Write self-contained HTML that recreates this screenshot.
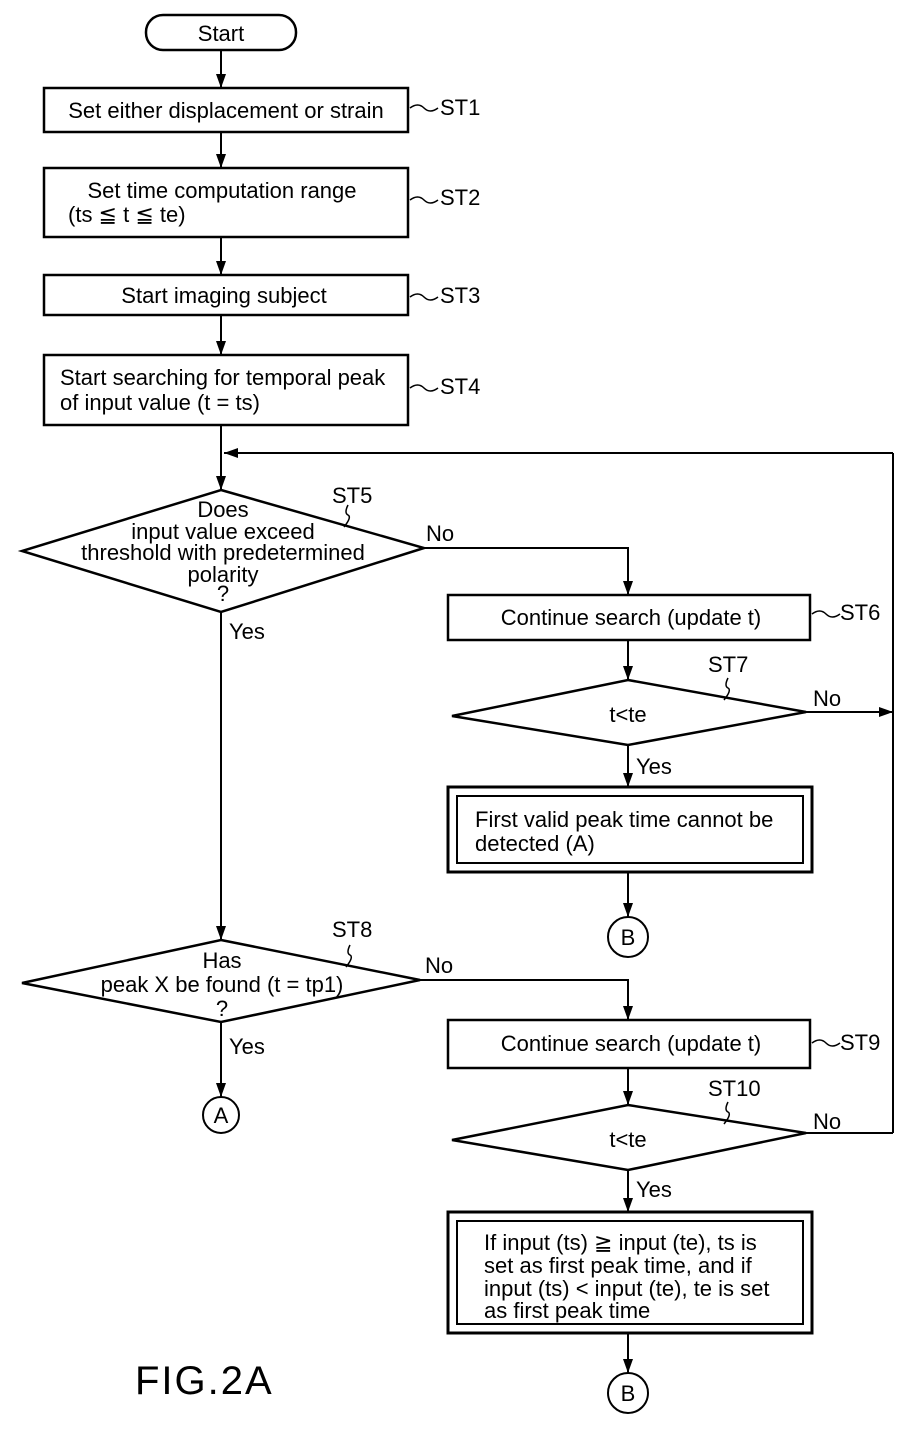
<!DOCTYPE html>
<html><head><meta charset="utf-8"><style>
html,body{margin:0;padding:0;background:#fff}
svg{display:block}
text{font-family:"Liberation Sans Narrow","Liberation Sans",sans-serif;font-size:22px;fill:#000}
</style></head><body>
<svg width="921" height="1429" viewBox="0 0 921 1429" xmlns="http://www.w3.org/2000/svg">
<defs><marker id="a" markerWidth="14" markerHeight="10" refX="14" refY="5" orient="auto" markerUnits="userSpaceOnUse"><path d="M0,0 L14,5 L0,10 Z" fill="#000"/></marker></defs>
<g fill="none" stroke="#000" stroke-width="2">
<rect x="146" y="15" width="150" height="35" rx="17" stroke-width="2.5"/>
<line x1="221" y1="50" x2="221" y2="88" marker-end="url(#a)"/>
<rect x="44" y="88" width="364" height="44" stroke-width="2.5"/>
<line x1="221" y1="132" x2="221" y2="168" marker-end="url(#a)"/>
<rect x="44" y="168" width="364" height="69" stroke-width="2.5"/>
<line x1="221" y1="237" x2="221" y2="275" marker-end="url(#a)"/>
<rect x="44" y="275" width="364" height="40" stroke-width="2.5"/>
<line x1="221" y1="315" x2="221" y2="355" marker-end="url(#a)"/>
<rect x="44" y="355" width="364" height="70" stroke-width="2.5"/>
<line x1="221" y1="425" x2="221" y2="490" marker-end="url(#a)"/>
<line x1="893" y1="453" x2="224" y2="453" marker-end="url(#a)"/>
<line x1="893" y1="453" x2="893" y2="1133"/>
<path d="M221,490 L424,548 L221,612 L22,551 Z" stroke-width="2.5"/>
<path d="M424,548 H628 V595" marker-end="url(#a)"/>
<rect x="448" y="595" width="362" height="45" stroke-width="2.5"/>
<line x1="628" y1="640" x2="628" y2="680" marker-end="url(#a)"/>
<path d="M628,680 L806,712 L628,745 L452,716 Z" stroke-width="2.5"/>
<line x1="806" y1="712" x2="893" y2="712" marker-end="url(#a)"/>
<line x1="628" y1="745" x2="628" y2="787" marker-end="url(#a)"/>
<rect x="448" y="787" width="364" height="85" stroke-width="3"/>
<rect x="457" y="796" width="346" height="67"/>
<line x1="628" y1="872" x2="628" y2="917" marker-end="url(#a)"/>
<circle cx="628" cy="937" r="20"/>
<line x1="221" y1="612" x2="221" y2="940" marker-end="url(#a)"/>
<path d="M221,940 L420,980 L221,1022 L22,983 Z" stroke-width="2.5"/>
<path d="M420,980 H628 V1020" marker-end="url(#a)"/>
<rect x="448" y="1020" width="362" height="48" stroke-width="2.5"/>
<line x1="628" y1="1068" x2="628" y2="1105" marker-end="url(#a)"/>
<path d="M628,1105 L806,1133 L628,1170 L452,1140 Z" stroke-width="2.5"/>
<line x1="806" y1="1133" x2="893" y2="1133"/>
<line x1="628" y1="1170" x2="628" y2="1212" marker-end="url(#a)"/>
<rect x="448" y="1212" width="364" height="121" stroke-width="3"/>
<rect x="457" y="1221" width="346" height="103"/>
<line x1="628" y1="1333" x2="628" y2="1373" marker-end="url(#a)"/>
<circle cx="628" cy="1393" r="20"/>
<line x1="221" y1="1022" x2="221" y2="1097" marker-end="url(#a)"/>
<circle cx="221" cy="1115" r="18"/>
<g stroke-width="1.5">
<path d="M410,108 q8,-6 14,0 t14,0"/>
<path d="M410,200 q8,-6 14,0 t14,0"/>
<path d="M410,297 q8,-6 14,0 t14,0"/>
<path d="M410,388 q8,-6 14,0 t14,0"/>
<path d="M812,614 q8,-6 14,0 t14,0"/>
<path d="M812,1043 q8,-6 14,0 t14,0"/>
<path d="M348,505 q-4,8 0,10 t-4,12"/>
<path d="M350,945 q-4,8 0,10 t-4,12"/>
<path d="M728,678 q-4,8 0,10 t-4,12"/>
<path d="M728,1102 q-4,8 0,10 t-4,12"/>
</g>
</g>
<text x="221" y="41" text-anchor="middle">Start</text>
<text x="226" y="118" text-anchor="middle">Set either displacement or strain</text>
<text x="222" y="198" text-anchor="middle">Set time computation range</text>
<text x="68" y="222">(ts ≦ t ≦ te)</text>
<text x="224" y="303" text-anchor="middle">Start imaging subject</text>
<text x="60" y="385">Start searching for temporal peak</text>
<text x="60" y="410">of input value (t = ts)</text>
<text x="440" y="115">ST1</text><text x="440" y="205">ST2</text><text x="440" y="303">ST3</text><text x="440" y="394">ST4</text>
<text x="223" y="517" text-anchor="middle">Does</text>
<text x="223" y="539" text-anchor="middle">input value exceed</text>
<text x="223" y="560" text-anchor="middle">threshold with predetermined</text>
<text x="223" y="582" text-anchor="middle">polarity</text>
<text x="223" y="601" text-anchor="middle">?</text>
<text x="332" y="503">ST5</text><text x="426" y="541">No</text><text x="229" y="639">Yes</text>
<text x="631" y="625" text-anchor="middle">Continue search (update t)</text>
<text x="840" y="620">ST6</text>
<text x="708" y="672">ST7</text>
<text x="628" y="722" text-anchor="middle">t&lt;te</text>
<text x="813" y="706">No</text><text x="636" y="774">Yes</text>
<text x="475" y="827">First valid peak time cannot be</text>
<text x="475" y="851">detected (A)</text>
<text x="628" y="945" text-anchor="middle">B</text>
<text x="222" y="968" text-anchor="middle">Has</text>
<text x="222" y="992" text-anchor="middle">peak X be found (t = tp1)</text>
<text x="222" y="1016" text-anchor="middle">?</text>
<text x="332" y="937">ST8</text><text x="425" y="973">No</text><text x="229" y="1054">Yes</text>
<text x="631" y="1051" text-anchor="middle">Continue search (update t)</text>
<text x="840" y="1050">ST9</text>
<text x="708" y="1096">ST10</text>
<text x="628" y="1147" text-anchor="middle">t&lt;te</text>
<text x="813" y="1129">No</text><text x="636" y="1197">Yes</text>
<text x="484" y="1250">If input (ts) ≧ input (te), ts is</text>
<text x="484" y="1273">set as first peak time, and if</text>
<text x="484" y="1296">input (ts) &lt; input (te), te is set</text>
<text x="484" y="1318">as first peak time</text>
<text x="628" y="1401" text-anchor="middle">B</text>
<text x="221" y="1123" text-anchor="middle">A</text>
<text x="135" y="1394" style="font-size:40px" letter-spacing="2">FIG.2A</text>
</svg>
</body></html>
